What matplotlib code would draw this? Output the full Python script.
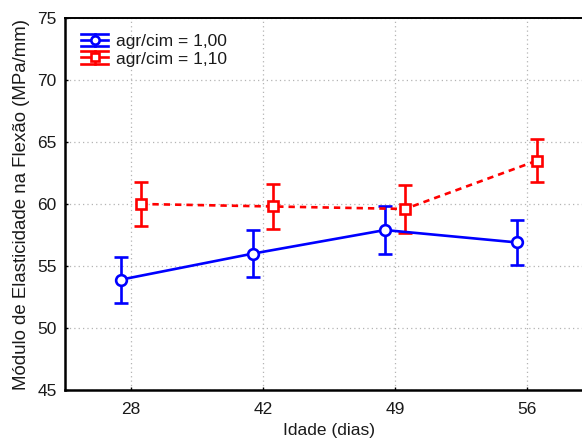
import matplotlib
matplotlib.use("Agg")
import matplotlib.pyplot as plt
import numpy as np
from matplotlib.legend_handler import HandlerBase
from matplotlib.lines import Line2D

plt.rcParams['font.family'] = ['Liberation Sans', 'DejaVu Sans']

# Data
idades = ["28", "42", "49", "56"]
media_100 = [53.9, 56.0, 57.9, 56.9]
erro_100 = [1.85, 1.9, 1.9, 1.8]
media_110 = [60.0, 59.8, 59.6, 63.5]
erro_110 = [1.8, 1.8, 1.9, 1.75]
rotulos = ["agr/cim = 1,00", "agr/cim = 1,10"]

AZUL = "#0000ff"
VERMELHO = "#ff0000"
LW = 1.9


class HandlerBarraErro(HandlerBase):
    """Legend key: line with marker and full-width error caps."""

    def __init__(self, cor, marcador):
        super().__init__()
        self.cor = cor
        self.marcador = marcador

    def create_artists(self, legend, orig_handle, xdescent, ydescent,
                       width, height, fontsize, trans):
        x0, x1 = -xdescent, width - xdescent
        cy = height / 2 - ydescent
        xc = (x0 + x1) / 2
        hh = 0.5 * height
        kw = dict(color=self.cor, linewidth=LW, transform=trans)
        artistas = [
            Line2D([x0, x1], [cy, cy], **kw),
            Line2D([x0, x1], [cy + hh, cy + hh], **kw),
            Line2D([x0, x1], [cy - hh, cy - hh], **kw),
            Line2D([xc, xc], [cy - hh, cy + hh], **kw),
            Line2D([xc], [cy], marker=self.marcador, markersize=6,
                   markerfacecolor="white", markeredgecolor=self.cor,
                   markeredgewidth=LW, linestyle="none", transform=trans),
        ]
        return artistas


fig = plt.figure(figsize=(5.82, 4.47), dpi=100)
ax = fig.add_axes([65 / 582, 57 / 447, 528 / 582, 372 / 447])

pos = np.arange(len(idades)) + 0.5
desloc = 0.076

ax.errorbar(pos - desloc, media_100, yerr=erro_100, color=AZUL,
            linestyle="-", linewidth=LW, marker="o", markersize=7.7,
            markerfacecolor="white", markeredgewidth=LW,
            elinewidth=LW, capsize=4.7, capthick=LW, zorder=3)
ax.errorbar(pos + desloc, media_110, yerr=erro_110, color=VERMELHO,
            linestyle=(0, (2.4, 1.9)), linewidth=LW, marker="s", markersize=7.7,
            markerfacecolor="white", markeredgewidth=LW,
            elinewidth=LW, capsize=4.7, capthick=LW, zorder=3)

ax.set_xlim(0, 4)
ax.set_ylim(45, 75)
ax.set_xticks(pos)
ax.set_xticklabels(idades)
ax.set_yticks(np.arange(45, 76, 5))
ax.tick_params(axis="both", direction="in", length=2, width=1,
               labelsize=12.5, labelcolor="#1a1a1a")
ax.tick_params(axis="x", pad=9)
ax.tick_params(axis="y", pad=6)
ax.grid(True, color="#b4b4b4", linestyle=(0, (1, 2.5)), linewidth=0.9)
ax.set_axisbelow(True)

for s in ["left", "bottom"]:
    ax.spines[s].set_linewidth(1.8)
ax.spines["top"].set_linewidth(1.4)
ax.spines["right"].set_visible(False)

ax.set_xlabel("Idade (dias)", fontsize=12.5, labelpad=4, color="#1a1a1a")
ax.set_ylabel("Módulo de Elasticidade na Flexão (MPa/mm)", fontsize=13.4,
              labelpad=5, color="#1a1a1a")

chaves = [Line2D([], []), Line2D([], [])]
leg = ax.legend(chaves, rotulos, loc="upper left", frameon=False, fontsize=12.5,
                handlelength=1.6, handleheight=0.7, handletextpad=0.45,
                labelspacing=0.15, borderaxespad=0.5, borderpad=0.4,
                handler_map={chaves[0]: HandlerBarraErro(AZUL, "o"),
                             chaves[1]: HandlerBarraErro(VERMELHO, "s")})
for t in leg.get_texts():
    t.set_color("#1a1a1a")

fig.savefig("out.png", dpi=100, facecolor="white")
